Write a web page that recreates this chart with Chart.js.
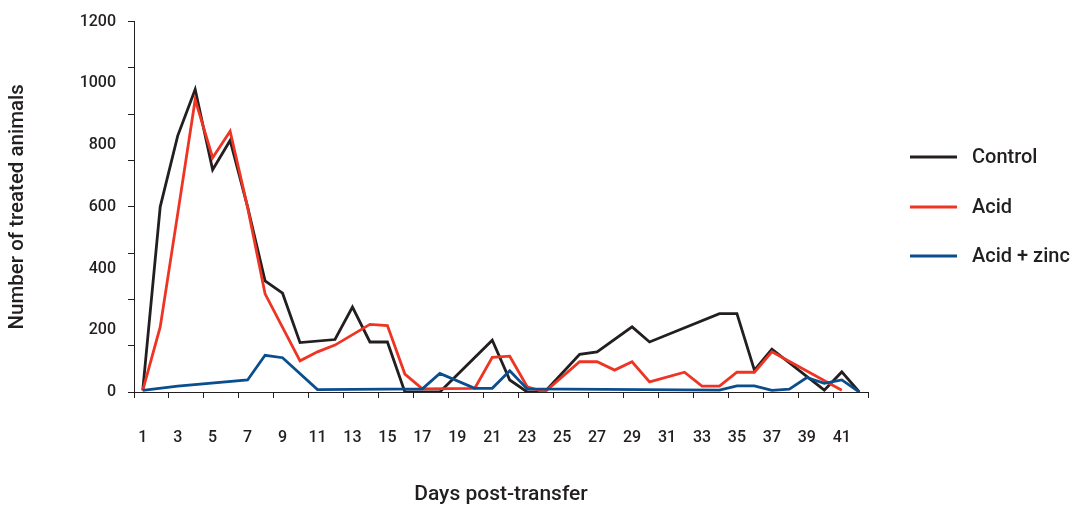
<!DOCTYPE html>
<html>
<head>
<meta charset="utf-8">
<script src="https://cdn.jsdelivr.net/npm/chart.js@4/dist/chart.umd.min.js"></script>
<style>
  html, body { margin: 0; padding: 0; background: #ffffff; }
  #wrap { width: 1073px; height: 507px; position: relative; }
</style>
</head>
<body>
<div id="wrap"><canvas id="c" width="1073" height="507"></canvas></div>
<script>
// Days post-transfer (categories)
const days = ['1','2','3','4','5','6','7','8','9','10','11','12','13','14','15','16','17','18','19','20','21',
              '22','23','24','25','26','27','28','29','30','31','32','33','34','35','36','37','38','39','40','41','42'];

// Series values (null = no observation, line joins neighbours)
const control = [5, 600, 830, 980, 720, 815, 600, 360, 320, 160, null, 170, 275, 162, 162, 0, 0, 0, null, null, 168,
                 39, 0, 0, null, 122, 130, null, 211, 162, null, null, null, 254, 254, 71, 139, null, null, 6, 65, 0];
const acid    = [5, 211, 577, 947, 759, 845, 598, 318, null, 101, 130, 152, null, 219, 215, 58, 10, null, null, 12, 112,
                 116, 17, 0, null, 98, 98, 71, 98, 33, null, 64, 19, 19, 64, 64, 130, null, null, null, 6, null];
const acidZinc = [5, null, 19, null, null, null, 39, 119, 111, null, 8, null, null, null, null, null, 10, 60, null, 12, 12,
                  69, 10, null, null, null, null, null, null, null, null, null, null, 6, 20, 20, 5, 9, 47, 28, 39, 0];

// Axis ticks
const yLabelTicks = [0, 200, 400, 600, 800, 1000, 1200];
const yMarkTicks  = [0, 150, 300, 450, 600, 750, 900, 1050, 1200];

const seriesNames = ['Control', 'Acid', 'Acid + zinc'];
const seriesColors = ['#231f20', '#ee3524', '#0b4e8e'];

const INK = '#231f20';
const FONT = 'Roboto, "Noto Sans", sans-serif';

const legendPlugin = {
  id: 'sideLegend',
  afterDraw(chart) {
    const ctx = chart.ctx;
    ctx.save();
    const x0 = 910, x1 = 957, tx = 972;
    const rows = [157, 207, 256];
    chart.data.datasets.forEach((ds, i) => {
      const y = rows[i];
      ctx.strokeStyle = ds.borderColor;
      ctx.lineWidth = 2.8;
      ctx.beginPath();
      ctx.moveTo(x0, y);
      ctx.lineTo(x1, y);
      ctx.stroke();
      ctx.fillStyle = INK;
      ctx.font = '500 20px ' + FONT;
      ctx.textBaseline = 'middle';
      ctx.textAlign = 'left';
      ctx.fillText(ds.label, tx, y + 1);
    });
    ctx.restore();
  }
};

const allYTicks = Array.from(new Set(yLabelTicks.concat(yMarkTicks))).sort((a, b) => a - b);

new Chart(document.getElementById('c'), {
  type: 'line',
  data: {
    labels: days,
    datasets: [
      { label: seriesNames[0], data: control,  borderColor: seriesColors[0], order: 3 },
      { label: seriesNames[1], data: acid,     borderColor: seriesColors[1], order: 2 },
      { label: seriesNames[2], data: acidZinc, borderColor: seriesColors[2], order: 1 }
    ].map(d => Object.assign(d, {
      backgroundColor: d.borderColor,
      borderWidth: 2.8,
      pointRadius: 0,
      pointHoverRadius: 0,
      tension: 0,
      spanGaps: true,
      fill: false,
      borderJoinStyle: 'miter',
      borderCapStyle: 'butt'
    }))
  },
  options: {
    responsive: false,
    animation: false,
    events: [],
    layout: { padding: { left: 0, top: 20, right: 205, bottom: 0 } },
    plugins: {
      legend: { display: false },
      tooltip: { enabled: false },
      title: { display: false }
    },
    scales: {
      x: {
        type: 'category',
        offset: true,
        afterFit(scale) { scale.height = 115; },
        border: { display: true, color: INK, width: 1 },
        grid: {
          offset: true,
          drawOnChartArea: false,
          drawTicks: true,
          tickLength: 6,
          tickWidth: 1,
          color: (c) => (c.index === undefined || c.index % 2 === 0) ? INK : 'rgba(0,0,0,0)'
        },
        ticks: {
          autoSkip: false,
          maxRotation: 0,
          minRotation: 0,
          padding: 30,
          color: INK,
          font: { family: FONT, size: 16, weight: '500' },
          callback: (v, i) => (i % 2 === 0 && i <= 40) ? days[i] : ''
        },
        title: {
          display: true,
          text: 'Days post-transfer',
          color: INK,
          font: { family: FONT, size: 21, weight: '500' },
          padding: { top: 0, bottom: 0 }
        }
      },
      y: {
        min: 0,
        max: 1200,
        afterBuildTicks(scale) { scale.ticks = allYTicks.map(v => ({ value: v })); },
        afterFit(scale) { scale.width = 134; },
        border: { display: true, color: INK, width: 1 },
        grid: {
          drawOnChartArea: false,
          drawTicks: true,
          tickLength: 6,
          tickWidth: 1,
          color: (c) => (c.tick && yMarkTicks.includes(c.tick.value)) ? INK : 'rgba(0,0,0,0)'
        },
        ticks: {
          padding: 12,
          color: INK,
          font: { family: FONT, size: 16, weight: '500' },
          callback: (v) => yLabelTicks.includes(v) ? String(v) : ''
        },
        title: {
          display: true,
          text: 'Number of treated animals',
          color: INK,
          font: { family: FONT, size: 20.5, weight: '500' },
          padding: { top: 6, bottom: 0 }
        }
      }
    }
  },
  plugins: [legendPlugin]
});
</script>
</body>
</html>
